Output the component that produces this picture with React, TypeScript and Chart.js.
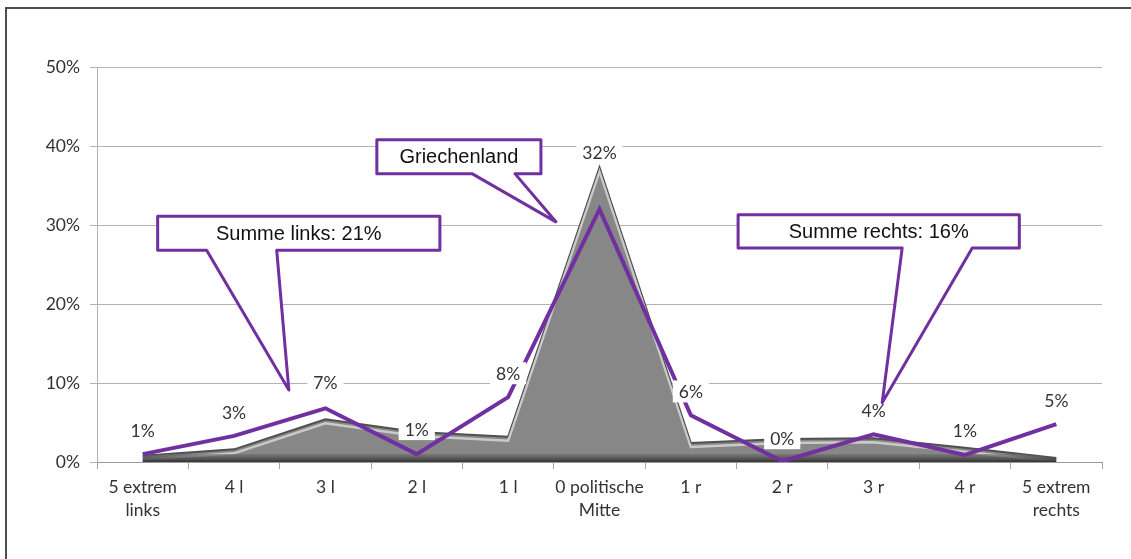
import React, { useEffect, useRef } from "react";
import { Chart, registerables } from "chart.js";

Chart.register(...registerables);

// ---- data ----
const categories: (string | string[])[] = [
  ["5 extrem", "links"],
  "4 l",
  "3 l",
  "2 l",
  "1 l",
  ["0 politische", "Mitte"],
  "1 r",
  "2 r",
  "3 r",
  "4 r",
  ["5 extrem", "rechts"],
];
// purple line (Griechenland), percent
const greeceValues = [1.0, 3.3, 6.8, 1.0, 8.2, 32.0, 5.9, 0.1, 3.5, 0.9, 4.8];
// grey 3D area (comparison), percent
const areaValues = [0.8, 1.6, 5.4, 3.8, 3.2, 37.3, 2.4, 2.9, 3.0, 1.8, 0.5];
const yMin = 0;
const yMax = 50;
const yStep = 10;

// callouts in data coordinates (x = category index, y = percent)
const calloutTexts = ["Summe links: 21%", "Griechenland", "Summe rechts: 16%"];
const calloutBoxX = [[0.164, 3.253], [2.563, 4.359], [6.517, 9.595]];
const calloutBoxY = [[31.1, 26.8], [40.8, 36.5], [31.3, 27.1]];
const calloutBaseX = [[0.70, 1.467], [3.604, 4.074], [8.313, 9.08]];
const calloutTip = [[1.6, 9.1], [4.523, 30.4], [8.094, 7.5]];

// label lift (px above the point) per category
const labelLift = [24, 24, 26, 25, 24, 57, 24, 23, 24, 25, 24];

const PURPLE = "#7030a0";
const TEXT = "#333333";
const LABEL_FONT = "17.5px Lato";

const framePlugin = {
  id: "frame",
  beforeDraw(chart: any) {
    const { ctx, width, height } = chart;
    ctx.save();
    ctx.fillStyle = "#ffffff";
    ctx.fillRect(0, 0, width, height);
    ctx.strokeStyle = "#4d4d4d";
    ctx.lineWidth = 2;
    ctx.beginPath();
    ctx.moveTo(6, height);
    ctx.lineTo(6, 8);
    ctx.lineTo(width, 8);
    ctx.stroke();
    ctx.restore();
  },
};

const bevelPlugin = {
  id: "bevel",
  afterDatasetDraw(chart: any, args: any) {
    if (args.index !== 1) return;
    const meta = chart.getDatasetMeta(1);
    const pts = meta.data;
    const { ctx, chartArea } = chart;
    const bottom = chart.scales.y.getPixelForValue(0);
    ctx.save();
    ctx.beginPath();
    ctx.moveTo(pts[0].x, bottom);
    pts.forEach((p: any) => ctx.lineTo(p.x, p.y));
    ctx.lineTo(pts[pts.length - 1].x, bottom);
    ctx.closePath();
    ctx.clip();
    // light bevel highlight below the top edge
    ctx.strokeStyle = "rgba(210,210,210,0.9)";
    ctx.lineWidth = 2.5;
    ctx.beginPath();
    pts.forEach((p: any, i: number) => {
      if (i === 0) ctx.moveTo(p.x, p.y + 4);
      else ctx.lineTo(p.x, p.y + 4);
    });
    ctx.stroke();
    // dark bottom band
    const g = ctx.createLinearGradient(0, bottom - 8, 0, bottom);
    g.addColorStop(0, "rgba(110,110,110,0.6)");
    g.addColorStop(1, "rgba(50,50,50,1)");
    ctx.fillStyle = g;
    ctx.fillRect(chartArea.left, bottom - 8, chartArea.width, 8);
    ctx.restore();
  },
};

const labelPlugin = {
  id: "valueLabels",
  afterDatasetsDraw(chart: any) {
    const meta = chart.getDatasetMeta(0);
    const { ctx } = chart;
    ctx.save();
    ctx.font = LABEL_FONT;
    ctx.textAlign = "center";
    ctx.textBaseline = "middle";
    meta.data.forEach((p: any, i: number) => {
      const txt = Math.round(greeceValues[i]) + "%";
      const w = ctx.measureText(txt).width + 12;
      const cy = p.y - labelLift[i];
      ctx.fillStyle = "#ffffff";
      ctx.fillRect(p.x - w / 2, cy - 11, w, 22);
      ctx.fillStyle = TEXT;
      ctx.fillText(txt, p.x, cy + 1);
    });
    ctx.restore();
  },
};

const calloutPlugin = {
  id: "callouts",
  afterDraw(chart: any) {
    const { ctx } = chart;
    const xs = chart.scales.x;
    const ys = chart.scales.y;
    const step = xs.getPixelForValue(1) - xs.getPixelForValue(0);
    const px = (v: number) => xs.getPixelForValue(0) + v * step;
    const py = (v: number) => ys.getPixelForValue(v);
    ctx.save();
    calloutTexts.forEach((text, i) => {
      const x0 = px(calloutBoxX[i][0]);
      const x1 = px(calloutBoxX[i][1]);
      const y0 = py(calloutBoxY[i][0]);
      const y1 = py(calloutBoxY[i][1]);
      const b0 = px(calloutBaseX[i][0]);
      const b1 = px(calloutBaseX[i][1]);
      const tx = px(calloutTip[i][0]);
      const ty = py(calloutTip[i][1]);
      ctx.beginPath();
      ctx.moveTo(x0, y0);
      ctx.lineTo(x1, y0);
      ctx.lineTo(x1, y1);
      ctx.lineTo(b1, y1);
      ctx.lineTo(tx, ty);
      ctx.lineTo(b0, y1);
      ctx.lineTo(x0, y1);
      ctx.closePath();
      ctx.fillStyle = "#ffffff";
      ctx.fill();
      ctx.strokeStyle = PURPLE;
      ctx.lineWidth = 3;
      ctx.lineJoin = "round";
      ctx.stroke();
      ctx.fillStyle = "#111111";
      ctx.font = "20px 'Liberation Sans'";
      ctx.textAlign = "center";
      ctx.textBaseline = "middle";
      ctx.fillText(text, (x0 + x1) / 2, (y0 + y1) / 2 + 1);
    });
    ctx.restore();
  },
};

export default function App() {
  const ref = useRef<HTMLCanvasElement | null>(null);

  useEffect(() => {
    if (!ref.current) return;
    const chart = new Chart(ref.current, {
      type: "line",
      data: {
        labels: categories as any,
        datasets: [
          {
            label: "Griechenland",
            data: greeceValues,
            borderColor: PURPLE,
            borderWidth: 4,
            pointRadius: 0,
            tension: 0,
            fill: false,
            order: 1,
          },
          {
            label: "Vergleich",
            data: areaValues,
            borderColor: "#4f4f4f",
            borderWidth: 2,
            backgroundColor: "#878787",
            pointRadius: 0,
            tension: 0,
            fill: "origin",
            order: 2,
          },
        ],
      },
      options: {
        responsive: false,
        animation: false,
        devicePixelRatio: 1,
        layout: { padding: { left: 0, right: 29, top: 67, bottom: 0 } },
        plugins: {
          legend: { display: false },
          tooltip: { enabled: false },
        },
        scales: {
          x: {
            offset: true,
            grid: {
              display: true,
              drawOnChartArea: false,
              drawTicks: true,
              tickLength: 7,
              offset: true,
              color: "#a6a6a6",
            },
            border: { display: true, color: "#9a9a9a", width: 1 },
            ticks: {
              color: TEXT,
              font: { family: "Lato", size: 17.5, lineHeight: 1.3 },
              padding: 7,
              maxRotation: 0,
              autoSkip: false,
            },
            afterFit: (axis: any) => {
              axis.height = 97;
            },
          },
          y: {
            min: yMin,
            max: yMax,
            grid: {
              color: "#b3b3b3",
              tickLength: 7,
              drawTicks: true,
            },
            border: { display: true, color: "#b3b3b3", width: 1 },
            ticks: {
              stepSize: yStep,
              color: TEXT,
              font: { family: "Lato", size: 17.5 },
              padding: 10,
              callback: (v: any) => v + "%",
            },
            afterFit: (axis: any) => {
              axis.width = 97;
            },
          },
        },
      },
      plugins: [framePlugin, bevelPlugin, labelPlugin, calloutPlugin],
    });
    return () => chart.destroy();
  }, []);

  return (
    <div style={{ position: "absolute", left: 0, top: 0, width: 1131, height: 559 }}>
      <canvas ref={ref} width={1131} height={559} style={{ display: "block" }} />
    </div>
  );
}
